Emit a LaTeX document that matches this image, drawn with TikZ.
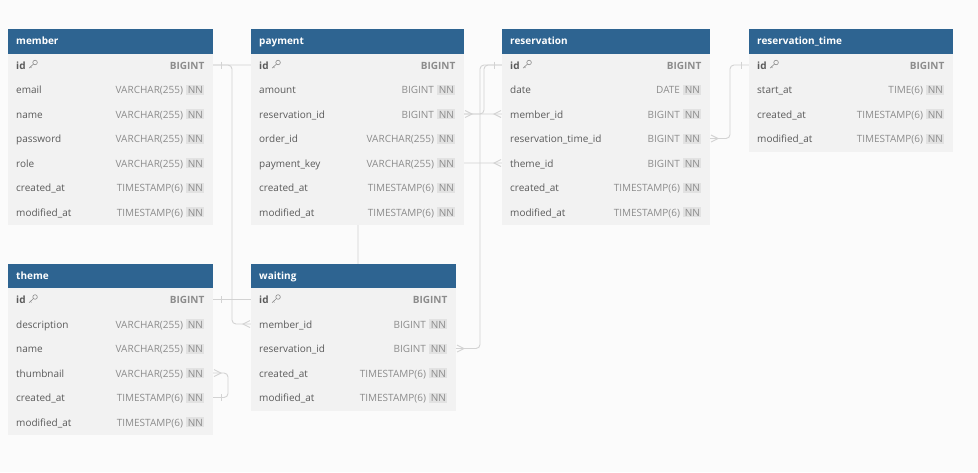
\documentclass[tikz,border=0pt]{standalone}
\usepackage{fontspec}
\setmainfont{Open Sans}
\definecolor{headC}{HTML}{2E6491}
\definecolor{bodyC}{HTML}{F2F2F2}
\definecolor{bgC}{HTML}{FBFBFB}
\definecolor{lineC}{HTML}{D3D3D3}
\definecolor{nameC}{HTML}{5A5A5A}
\definecolor{typeC}{HTML}{8C8C8C}
\definecolor{nnC}{HTML}{E2E2E2}
\pgfdeclarelayer{bglayer}
\pgfdeclarelayer{connlayer}
\pgfsetlayers{bglayer,connlayer,main}
\tikzset{
 conn/.style={draw=lineC, line width=0.9pt, rounded corners=4pt},
 mk/.style={draw=lineC, line width=0.9pt},
 headbox/.style={fill=headC, draw=none, inner sep=0pt, anchor=north west},
 bodybox/.style={fill=bodyC, draw=none, inner sep=0pt, anchor=north west},
 titletext/.style={text=white, font=\fontsize{10}{12}\selectfont\bfseries, inner sep=0pt, anchor=base west},
 colname/.style={text=nameC, font=\fontsize{10}{12}\selectfont, inner sep=0pt, anchor=base west},
 idname/.style={colname, font=\fontsize{10}{12}\selectfont\bfseries},
 coltype/.style={text=typeC, font=\fontsize{10}{12}\selectfont, inner sep=0pt, anchor=base east},
 idtype/.style={coltype, font=\fontsize{10}{12}\selectfont\bfseries},
 nnbadge/.style={fill=nnC, text=typeC, font=\fontsize{10}{12}\selectfont, inner xsep=1.4pt, inner ysep=1.4pt, anchor=base east},
 keyic/.style={draw=typeC, line width=0.6pt},
}
% table geometry
\newcommand\ertable[6]{% #1 id, #2 x, #3 y, #4 w, #5 title, #6 rows
  \def\tid{#1}\def\tx{#2}\def\ty{#3}\def\tw{#4}%
  \node[headbox, minimum width=#4pt, minimum height=24.5pt] (#1-head) at (#2,#3) {};
  \node[bodybox, minimum width=#4pt, minimum height={#6*24.5pt}] (#1-body) at (#2,#3+24.5) {};
  \node[titletext] (#1-title) at (#2+8,#3+15.5) {#5};
}
\newcommand\idrow[1]{%
  \node[idname] (\tid-id) at (\tx+8,\ty+40) {id};
  \draw[keyic] (\tid-id.base east) ++(9.3,-6.5) circle (2.3pt);
  \draw[keyic] (\tid-id.base east) ++(7.7,-4.9) -- ++(-4.4,4);
  \draw[keyic] (\tid-id.base east) ++(4.6,-2.1) -- ++(1.1,1.1);
  \node[idtype] (\tid-id-type) at (\tx+\tw-8.5,\ty+40) {#1};
  \coordinate (\tid-id-l) at (\tx,\ty+36);
  \coordinate (\tid-id-r) at (\tx+\tw,\ty+36);
}
\newcommand\colrow[4]{% #1 index, #2 key, #3 label, #4 type
  \node[colname] (\tid-#2) at (\tx+8,\ty+40+24.5*#1) {#3};
  \node[nnbadge] (\tid-#2-nn) at (\tx+\tw-8.5,\ty+40+24.5*#1) {NN};
  \node[coltype, xshift=-3pt] (\tid-#2-type) at (\tid-#2-nn.base west) {#4};
  \coordinate (\tid-#2-l) at (\tx,\ty+36+24.5*#1);
  \coordinate (\tid-#2-r) at (\tx+\tw,\ty+36+24.5*#1);
}
\newcommand\onemk[2]{\draw[mk] (#1) ++(#2,-3.5) -- ++(0,7);}
\newcommand\manyR[1]{\draw[mk] (#1) ++(1,-3.5) -- ++(7,3.5) -- ++(-7,3.5);}
\newcommand\manyL[1]{\draw[mk] (#1) ++(-1,-3.5) -- ++(-7,3.5) -- ++(7,3.5);}
\begin{document}
\begin{tikzpicture}[x=1pt,y=-1pt]
\useasboundingbox (0,0) rectangle (978,472);
\begin{pgfonlayer}{bglayer}
\fill[bgC] (0,0) rectangle (978,472);
\end{pgfonlayer}

% member
\ertable{member}{8}{29}{205}{member}{7}
\idrow{BIGINT}
\colrow{1}{email}{email}{VARCHAR(255)}
\colrow{2}{name}{name}{VARCHAR(255)}
\colrow{3}{password}{password}{VARCHAR(255)}
\colrow{4}{role}{role}{VARCHAR(255)}
\colrow{5}{createdat}{created\_at}{TIMESTAMP(6)}
\colrow{6}{modifiedat}{modified\_at}{TIMESTAMP(6)}

% payment
\ertable{payment}{251}{29}{213}{payment}{7}
\idrow{BIGINT}
\colrow{1}{amount}{amount}{BIGINT}
\colrow{2}{reservationid}{reservation\_id}{BIGINT}
\colrow{3}{orderid}{order\_id}{VARCHAR(255)}
\colrow{4}{paymentkey}{payment\_key}{VARCHAR(255)}
\colrow{5}{createdat}{created\_at}{TIMESTAMP(6)}
\colrow{6}{modifiedat}{modified\_at}{TIMESTAMP(6)}

% reservation
\ertable{reservation}{502}{29}{208}{reservation}{7}
\idrow{BIGINT}
\colrow{1}{date}{date}{DATE}
\colrow{2}{memberid}{member\_id}{BIGINT}
\colrow{3}{reservationtimeid}{reservation\_time\_id}{BIGINT}
\colrow{4}{themeid}{theme\_id}{BIGINT}
\colrow{5}{createdat}{created\_at}{TIMESTAMP(6)}
\colrow{6}{modifiedat}{modified\_at}{TIMESTAMP(6)}

% reservation_time
\ertable{reservationtime}{749}{29}{204}{reservation\_time}{4}
\idrow{BIGINT}
\colrow{1}{startat}{start\_at}{TIME(6)}
\colrow{2}{createdat}{created\_at}{TIMESTAMP(6)}
\colrow{3}{modifiedat}{modified\_at}{TIMESTAMP(6)}

% theme
\ertable{theme}{8}{263.5}{205}{theme}{6}
\idrow{BIGINT}
\colrow{1}{description}{description}{VARCHAR(255)}
\colrow{2}{name}{name}{VARCHAR(255)}
\colrow{3}{thumbnail}{thumbnail}{VARCHAR(255)}
\colrow{4}{createdat}{created\_at}{TIMESTAMP(6)}
\colrow{5}{modifiedat}{modified\_at}{TIMESTAMP(6)}

% waiting
\ertable{waiting}{251}{263.5}{205}{waiting}{5}
\idrow{BIGINT}
\colrow{1}{memberid}{member\_id}{BIGINT}
\colrow{2}{reservationid}{reservation\_id}{BIGINT}
\colrow{3}{createdat}{created\_at}{TIMESTAMP(6)}
\colrow{4}{modifiedat}{modified\_at}{TIMESTAMP(6)}

% connectors (under the tables)
\begin{pgfonlayer}{connlayer}
\draw[conn] (member-id-r) -- ++(19,0) |- (waiting-memberid-l);
\draw[conn] (member-id-r) -- ++(150,0) |- (reservation-memberid-l);
\draw[conn] (payment-reservationid-r) -- ++(20,0) |- (reservation-id-l);
\draw[conn] (waiting-reservationid-r) -- ++(24,0) |- (reservation-id-l);
\draw[conn] (theme-id-r) -- ++(145,0) |- (reservation-themeid-l);
\draw[conn] (reservation-reservationtimeid-r) -- ++(20,0) |- (reservationtime-id-l);
\draw[conn] (theme-thumbnail-r) -- ++(15,0) |- (theme-createdat-r);
\end{pgfonlayer}

% end markers
\onemk{member-id-r}{8}
\manyL{waiting-memberid-l}
\manyL{reservation-memberid-l}
\manyR{payment-reservationid-r}
\onemk{reservation-id-l}{-8}
\manyR{waiting-reservationid-r}
\onemk{theme-id-r}{8}
\manyL{reservation-themeid-l}
\manyR{reservation-reservationtimeid-r}
\onemk{reservationtime-id-l}{-8}
\manyR{theme-thumbnail-r}
\onemk{theme-createdat-r}{8}
\end{tikzpicture}
\end{document}
